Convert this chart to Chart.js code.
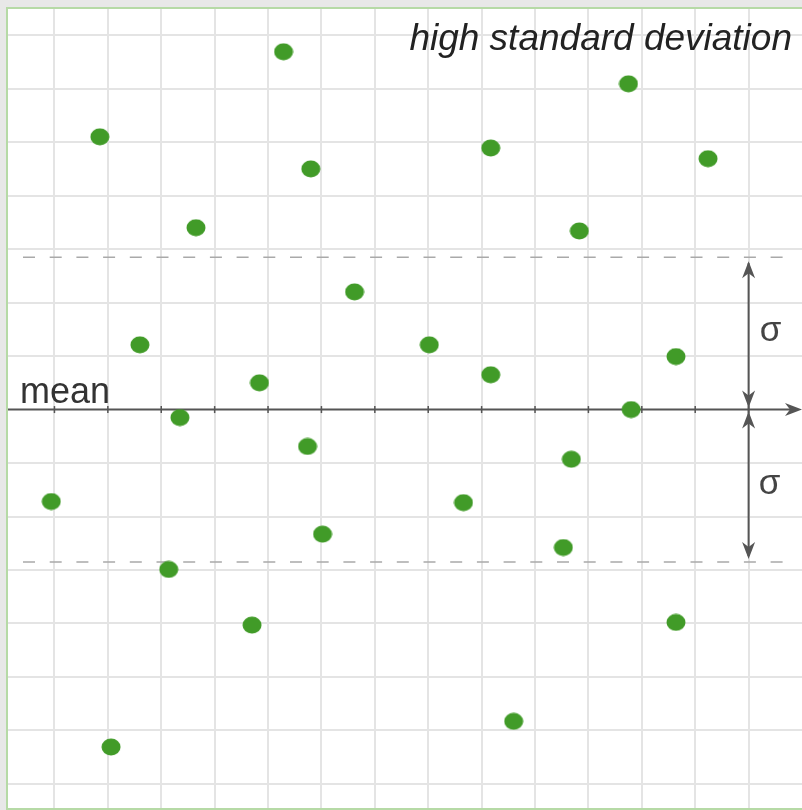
<!DOCTYPE html>
<html>
<head>
<meta charset="utf-8">
<title>high standard deviation</title>
<script src="https://cdn.jsdelivr.net/npm/chart.js@4.4.1/dist/chart.umd.min.js"></script>
<style>
  html, body { margin: 0; padding: 0; background: #e8e8e8; }
  canvas { display: block; }
</style>
</head>
<body>
<canvas id="sdChart" width="802" height="810"></canvas>
<script>
// values are in grid units: mean = 0, one grid square = 1
const xValues = [1.85, 5.29, 5.80, 3.65, 9.17, 11.75, 13.24, 10.83, 6.62, 2.60, 8.02, 4.84, 9.17, 12.64,
                 3.35, 11.80, 5.74, 10.68, 0.94, 8.66, 6.02, 10.53, 3.14, 4.70, 12.64, 9.60, 2.06];
const yValues = [5.10, 6.69, 4.50, 3.40, 4.89, 6.09, 4.69, 3.34, 2.20, 1.21, 1.21, 0.50, 0.65, 0.99,
                 -0.15, 0.00, -0.69, -0.93, -1.72, -1.74, -2.33, -2.58, -2.99, -4.03, -3.98, -5.83, -6.31];
const xTicks = [1, 2, 3, 4, 5, 6, 7, 8, 9, 10, 11, 12, 13, 14];
const yTicks = [-7, -6, -5, -4, -3, -2, -1, 1, 2, 3, 4, 5, 6, 7];
const meanValue = 0;
const sigma = 2.85;
const sigmaArrowX = 14;

const titleText = 'high standard deviation';
const meanText = 'mean';
const sigmaText = 'σ';

// slightly oval dot, like the picture
function makeDot(w, h, color) {
    const c = document.createElement('canvas');
    c.width = w;
    c.height = h;
    const g = c.getContext('2d');
    g.fillStyle = color;
    g.beginPath();
    g.ellipse(w / 2, h / 2, w / 2 - 0.5, h / 2 - 0.5, 0, 0, Math.PI * 2);
    g.fill();
    return c;
}

function arrowHead(ctx, x, y, dx, dy) {
    // tip at (x, y), pointing along (dx, dy)
    const len = 17, half = 6.5, notch = 5;
    const px = -dy, py = dx;
    ctx.beginPath();
    ctx.moveTo(x, y);
    ctx.lineTo(x - dx * len + px * half, y - dy * len + py * half);
    ctx.lineTo(x - dx * (len - notch), y - dy * (len - notch));
    ctx.lineTo(x - dx * len - px * half, y - dy * len - py * half);
    ctx.closePath();
    ctx.fill();
}

const paperPlugin = {
    id: 'paper',
    beforeDraw(chart) {
        const { ctx, chartArea: a } = chart;
        ctx.save();
        ctx.fillStyle = '#ffffff';
        ctx.fillRect(a.left, a.top, a.right - a.left, a.bottom - a.top);
        ctx.restore();
    },
    beforeDatasetsDraw(chart) {
        const { ctx, chartArea: a, scales } = chart;
        const xs = scales.x, ys = scales.y;
        const y0 = ys.getPixelForValue(meanValue);
        const yUp = ys.getPixelForValue(meanValue + sigma);
        const yDown = ys.getPixelForValue(meanValue - sigma);
        const xa = xs.getPixelForValue(sigmaArrowX);

        ctx.save();

        // dashed +/- sigma lines
        ctx.strokeStyle = '#a9a9a9';
        ctx.lineWidth = 1.5;
        ctx.setLineDash([12, 14.7]);
        [yUp, yDown].forEach(y => {
            ctx.beginPath();
            ctx.moveTo(a.left + 15, y);
            ctx.lineTo(a.right - 10, y);
            ctx.stroke();
        });
        ctx.setLineDash([]);

        // mean axis with ticks
        ctx.strokeStyle = '#555555';
        ctx.fillStyle = '#555555';
        ctx.lineWidth = 2;
        ctx.beginPath();
        ctx.moveTo(a.left, y0);
        ctx.lineTo(a.right - 4, y0);
        ctx.stroke();
        ctx.lineWidth = 1.5;
        xTicks.forEach(v => {
            const x = xs.getPixelForValue(v);
            ctx.beginPath();
            ctx.moveTo(x, y0 - 3.5);
            ctx.lineTo(x, y0 + 3.5);
            ctx.stroke();
        });
        arrowHead(ctx, a.right, y0, 1, 0);

        // sigma arrows
        ctx.lineWidth = 2;
        ctx.beginPath();
        ctx.moveTo(xa, yUp + 6);
        ctx.lineTo(xa, yDown - 6);
        ctx.stroke();
        arrowHead(ctx, xa, yUp + 4, 0, -1);
        arrowHead(ctx, xa, y0 - 2, 0, 1);
        arrowHead(ctx, xa, y0 + 2, 0, -1);
        arrowHead(ctx, xa, yDown - 3, 0, 1);

        // texts
        ctx.fillStyle = '#333333';
        ctx.font = '36px "Liberation Sans", Arial, sans-serif';
        ctx.textAlign = 'left';
        ctx.textBaseline = 'alphabetic';
        ctx.fillText(meanText, a.left + 12, y0 - 7);

        ctx.fillStyle = '#444444';
        ctx.font = '35px "Liberation Sans", Arial, sans-serif';
        ctx.textAlign = 'center';
        ctx.fillText(sigmaText, xa + 22, (yUp + y0) / 2 + 8);
        ctx.fillText(sigmaText, xa + 21, (yDown + y0) / 2 + 8);

        ctx.fillStyle = '#222222';
        ctx.font = 'italic 37px "Liberation Sans", Arial, sans-serif';
        ctx.textAlign = 'right';
        ctx.fillText(titleText, a.right - 10, a.top + 41);

        ctx.restore();
    },
    afterDraw(chart) {
        const { ctx, chartArea: a } = chart;
        ctx.save();
        ctx.strokeStyle = '#b6daa6';
        ctx.lineWidth = 2;
        ctx.strokeRect(a.left - 1, a.top - 1, a.right - a.left + 4, a.bottom - a.top + 2);
        ctx.restore();
    }
};

function createChart() {
    const points = xValues.map((x, i) => ({ x: x, y: yValues[i] }));
    const ctx = document.getElementById('sdChart').getContext('2d');

    new Chart(ctx, {
        type: 'scatter',
        data: {
            datasets: [{
                label: 'values',
                data: points,
                pointStyle: makeDot(20, 18, '#419b28'),
                pointRadius: 10,
                pointHoverRadius: 10,
            }],
        },
        options: {
            responsive: false,
            animation: false,
            layout: { autoPadding: false, padding: { left: 8, top: 9, right: 0, bottom: 2 } },
            plugins: {
                legend: { display: false },
                tooltip: { enabled: false },
            },
            scales: {
                x: {
                    type: 'linear',
                    min: 0.13,
                    max: 15.0,
                    afterBuildTicks: scale => { scale.ticks = xTicks.map(v => ({ value: v })); },
                    ticks: { display: false },
                    grid: { color: '#e4e4e4', lineWidth: 2, drawTicks: false },
                    border: { display: false },
                },
                y: {
                    type: 'linear',
                    min: -7.45,
                    max: 7.49,
                    afterBuildTicks: scale => { scale.ticks = yTicks.map(v => ({ value: v })); },
                    ticks: { display: false },
                    grid: { color: '#e4e4e4', lineWidth: 2, drawTicks: false },
                    border: { display: false },
                },
            },
        },
        plugins: [paperPlugin],
    });
}

window.addEventListener('load', createChart);
</script>
</body>
</html>
